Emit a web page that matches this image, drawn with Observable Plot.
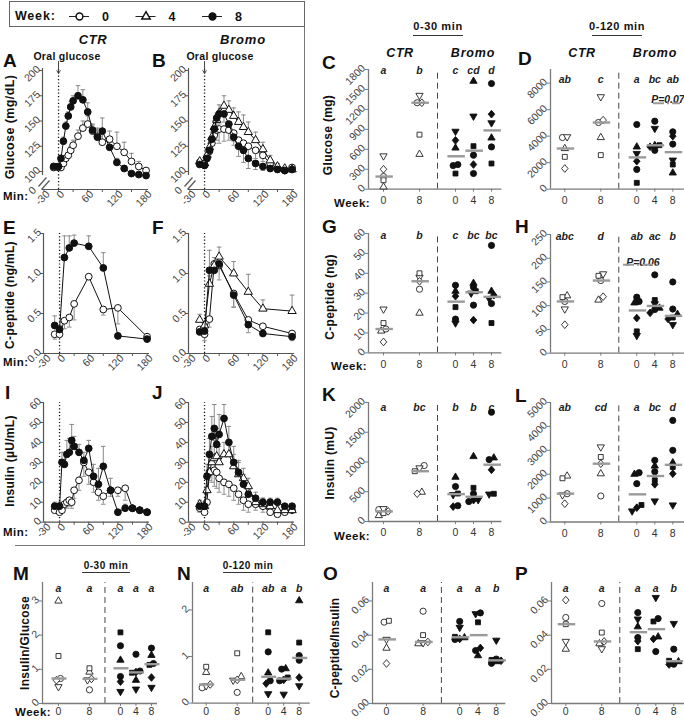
<!DOCTYPE html>
<html><head><meta charset="utf-8">
<script src="https://cdn.jsdelivr.net/npm/d3@7"></script>
<script src="https://cdn.jsdelivr.net/npm/@observablehq/plot@0.6"></script>
<style>
body{margin:0;background:#fff;}
#root{position:relative;width:684px;height:720px;overflow:hidden;font-family:"Liberation Sans",Arial,Helvetica,sans-serif;background:#fff;}
.t{position:absolute;white-space:nowrap;color:#111;line-height:1;}
</style></head><body><div id="root"></div>
<script>
// ================= DATA =================
const weekLabels = ["0", "4", "8"];
const glucoseTimes = [-10,0,5,10,15,20,25,30,40,50,60,70,80,90,105,120,135,150,165,180];
const insulinTimes = [-10,0,5,10,15,20,25,30,40,50,60,70,80,90,105,120,135,150,165,180];
const cpeptideTimes = [-10,0,10,20,30,60,90,120,180];
const doseTime = 0;

const glucoseCtrW0 = [104,104,104,108,113,116,121,126,135,143,147,140,135,129,132,125,119,110,105,101];
const glucoseCtrW0Err = [2,2,2,2,3,3,4,5,6,7,8,6,8,10,8,14,10,8,5,3];
const glucoseCtrW8 = [105,105,113,130,145,155,164,170,175,171,159,141,134,140,124,109,103,98,97,96];
const glucoseCtrW8Err = [3,3,3,4,4,4,5,5,10,10,9,6,8,13,5,4,3,2,2,2];
const glucoseBromoW0 = [109,107,114,120,128,136,141,142,142,141,138,131,128,125,121,116,108,103,101,104];
const glucoseBromoW0Err = [-3,-3,-4,-5,-6,-8,-10,-14,-12,-10,-8,-8,-10,-10,-8,-6,-4,-3,-2,-2];
const glucoseBromoW4 = [110,108,116,124,134,144,151,158,165,161,155,149,144,139,131,122,111,105,103,102];
const glucoseBromoW4Err = [2,2,3,4,5,6,7,8,10,9,8,10,12,10,8,7,5,3,2,2];
const glucoseBromoW8 = [107,106,113,121,132,142,153,157,157,147,134,125,121,113,108,105,103,102,101,102];
const glucoseBromoW8Err = [-2,-2,-3,-4,-5,-6,-8,-10,-8,-8,-8,-10,-12,-10,-6,-4,-3,-2,-2,-2];

const cpeptideCtrW0 = [0.24,0.24,0.41,0.45,0.62,0.96,0.55,0.57,0.21];
const cpeptideCtrW0Err = [-0.06,0,-0.1,-0.12,-0.2,0,-0.07,-0.2,-0.03];
const cpeptideCtrW8 = [0.35,0.30,1.20,1.32,1.38,1.34,1.07,0.22,0.18];
const cpeptideCtrW8Err = [0.12,0.05,0.27,0.15,0.10,0.13,0.19,0,0.02];
const cpeptideBromoW0 = [0.30,0.24,0.43,1.12,1.10,0.75,0.42,0.34,0.25];
const cpeptideBromoW0Err = [-0.05,-0.08,-0.1,0,-0.18,-0.17,-0.05,0,0];
const cpeptideBromoW4 = [0.42,0.35,0.87,1.10,1.21,1.00,0.77,0.56,0.53];
const cpeptideBromoW4Err = [0.07,0,0.1,0.1,0.12,0.15,0.22,0.11,0.2];
const cpeptideBromoW8 = [0.27,0.28,1.04,1.04,1.12,0.73,0.36,0.25,0.21];
const cpeptideBromoW8Err = [0,-0.05,0.25,0,0,-0.15,-0.1,0,-0.05];

const insulinCtrW0 = [6,5,6,9,10,11,10,16,21,30,25,20,15,13,16,16,17,7,6,5];
const insulinCtrW0Err = [-1,-1,-1,-2,-3,-3,-3,-4,-5,-7,-6,-5,-4,-4,-3,-3,-6,-1,-1,-1];
const insulinCtrW8 = [8,8,30,29,34,35,41,38,35,31,37,23,19,28,16,5,7,7,6,5];
const insulinCtrW8Err = [2,2,5,6,7,7,8,5,4,4,4,6,8,10,6,1,2,1,1,1];
const insulinBromoW0 = [7,5,10,25,28,26,25,22,20,19,17,14,11,9,9,8,5,4,5,6];
const insulinBromoW0Err = [-2,-1,-3,-4,-8,-8,-8,-7,-6,-6,-6,-5,-5,-4,-3,-3,-1,-1,-1,-1];
const insulinBromoW4 = [9,8,16,25,30,32,33,30,34,34,28,24,22,18,10,9,8,6,6,6];
const insulinBromoW4Err = [2,2,6,8,8,9,9,8,6,6,6,6,5,4,3,3,2,1,1,1];
const insulinBromoW8 = [8,8,23,34,43,47,39,44,52,40,30,25,19,14,12,10,10,10,8,8];
const insulinBromoW8Err = [2,2,6,8,10,12,8,10,7,8,8,6,5,4,3,2,2,2,1,1];

// Individual animals (CTR: 5 animals, Bromo: 6 animals); groups: CTR wk0, CTR wk8, Bromo wk0, wk4, wk8
const groupLabels = ["CTR 0", "CTR 8", "Bromo 0", "Bromo 4", "Bromo 8"];
const groupWeeks = ["0", "8", "0", "4", "8"];
const ctrAnimals = ["CTR-1", "CTR-2", "CTR-3", "CTR-4", "CTR-5"];
const bromoAnimals = ["Bromo-1", "Bromo-2", "Bromo-3", "Bromo-4", "Bromo-5", "Bromo-6"];

const glucoseAuc30 = [[190,35,500,135,300],[1300,525,1410,820,1300],[370,355,620,870,235,735],[511,236,1624,1098,647,371],[1589,636,771,997,386,1128]];
const glucoseAuc120 = [[3900,3070,3950,2440,1560],[5030,3900,6970,2570,5210],[4880,1490,3190,2690,480,2110],[5130,2930,3300,4580,3320,3200],[4330,3400,1230,2190,1860,4000]];
const cpeptideAuc30 = [[12,11,22,15,5.5],[32,20,38,40,36],[34,17,31,15,23,28.5],[33,24,35,30,31,16.5],[54,24.8,31,27.3,15,29]];
const cpeptideAuc120 = [[109,121,93,118,60],[153,112,167,163,119],[118,109,106,37,46,74],[165,92,95,104,112,85],[150,93,82,60,75,72]];
const insulinAuc30 = [[200,100,215,140,170],[940,493,900,845,466],[588,265,745,450,470,250],[466,335,1092,365,566,360],[1837,1040,1070,460,466,869]];
const insulinAuc120 = [[1184,1925,1130,1828,766],[1088,2020,3138,2720,2440],[2063,1603,2000,460,711,598],[2581,2105,2343,879,1745,1577],[4250,3000,2480,710,2300,2020]];
const insGlucRatio30 = [[0.73,3.0,0.49,1.39,0.68],[0.4,0.92,0.69,1.03,0.72],[1.69,0.79,1.27,0.35,2.08,0.64],[1.44,0.95,0.68,0.42,0.9,0.92],[1.62,1.17,1.41,0.47,1.13,0.76]];
const insGlucRatio120 = [[0.33,0.66,0.37,0.78,0.4],[0.23,0.57,0.49,1.07,0.5],[1.1,0.48,0.65,0.2,1.52,0.42],[0.73,0.48,0.74,0.19,0.55,0.5],[1.02,0.92,2.2,0.37,1.3,0.55]];
const cpepInsRatio30 = [[0.0476,0.0324,0.0375,0.0484,0.0234],[0.054,0.035,0.0355,0.04,0.036],[0.048,0.0375,0.0385,0.0445,0.039,0.0378],[0.053,0.031,0.028,0.0525,0.0475,0.0325],[0.026,0.0235,0.0245,0.037,0.0255,0.025]];
const cpepInsRatio120 = [[0.0503,0.0318,0.0363,0.0464,0.0605],[0.0585,0.035,0.032,0.0415,0.0363],[0.0532,0.0386,0.0449,0.0494,0.0318,0.0365],[0.0497,0.0304,0.039,0.062,0.048,0.0378],[0.0318,0.023,0.0245,0.0468,0.025,0.0228]];

const lettersC = ["a","b","c","cd","d"];
const lettersD = ["ab","c","a","bc","ab"];
const lettersG = ["a","b","c","bc","bc"];
const lettersH = ["abc","d","ab","ac","b"];
const lettersK = ["a","bc","b","b","c"];
const lettersL = ["ab","cd","a","bc","d"];
const lettersM = ["a","a","a","a","a"];
const lettersN = ["a","ab","ab","a","b"];
const lettersO = ["a","a","a","a","b"];
const lettersP = ["a","a","a","a","b"];
const pValueLabels = ["P=0.07", "P=0.06"];

const minuteTicks = [-30,0,30,60,90,120,150,180];
const minuteLabels = [-30,0,60,120,180];
const glucoseLineTicks = [100,125,150,175,200];
const cpeptideLineTicks = [0,0.5,1,1.5];
const insulinLineTicks = [0,10,20,30,40,50,60];
const ticksC = [0,300,600,900,1200,1500,1800];
const ticksD = [0,2000,4000,6000,8000];
const ticksG = [0,10,20,30,40,50,60];
const ticksH = [0,50,100,150,200,250];
const ticksK = [0,500,1000,1500,2000];
const ticksL = [0,1000,2000,3000,4000,5000];
const ticksM = [0,1,2,3];
const ticksN = [0,1,2];
const ticksOP = [0,0.02,0.04,0.06];

// ================= HELPERS =================
const FONT = '"Liberation Sans", Arial, Helvetica, sans-serif';
const root = document.getElementById("root");

function T(x, y, s, o = {}) {
  const d = document.createElement("div");
  d.className = "t";
  d.textContent = s;
  d.style.left = x + "px"; d.style.top = y + "px";
  d.style.fontSize = (o.size || 11) + "px";
  d.style.fontWeight = o.weight || "bold";
  if (o.italic) d.style.fontStyle = "italic";
  if (o.color) d.style.color = o.color;
  if (o.ls) d.style.letterSpacing = o.ls + "px";
  const ax = o.anchor === "start" ? "0" : o.anchor === "end" ? "-100%" : "-50%";
  d.style.transform = `translate(${ax},-50%)` + (o.rotate ? ` rotate(${o.rotate}deg)` : "");
  root.appendChild(d);
}
function box(x, y, w, h, css) {
  const d = document.createElement("div");
  d.style.cssText = `position:absolute;left:${x}px;top:${y}px;width:${w}px;height:${h}px;${css}`;
  root.appendChild(d);
}

const SQ3 = Math.sqrt(3);
const symSquare = {draw(c, s) { const w = Math.sqrt(s) * 0.92; c.rect(-w/2, -w/2, w, w); }};
const symDiamond = {draw(c, s) { const r = Math.sqrt(s) * 0.7; c.moveTo(0, -r); c.lineTo(r*0.85, 0); c.lineTo(0, r); c.lineTo(-r*0.85, 0); c.closePath(); }};
const symTriUp = {draw(c, s) { const y = Math.sqrt(s / (SQ3 * 3)); c.moveTo(0, -2*y); c.lineTo(SQ3*y, y); c.lineTo(-SQ3*y, y); c.closePath(); }};
const symTriDown = {draw(c, s) { const y = Math.sqrt(s / (SQ3 * 3)); c.moveTo(0, 2*y); c.lineTo(SQ3*y, -y); c.lineTo(-SQ3*y, -y); c.closePath(); }};
const symCap = {draw(c) { c.moveTo(-2.3, 0); c.lineTo(2.3, 0); }};

const weekStyle = {
  "0": {symbol: "circle", r: 3.4, fill: "#fff"},
  "4": {symbol: symTriUp, r: 3.1, fill: "#fff"},
  "8": {symbol: "circle", r: 3.4, fill: "#111"}
};

function mount(cfg, marks) {
  const mL = 50, mR = 14, mT = 32, mB = 34;
  const svg = Plot.plot({
    width: cfg.w + mL + mR, height: cfg.h + mT + mB,
    marginLeft: mL, marginRight: mR, marginTop: mT, marginBottom: mB,
    x: {domain: cfg.xd, axis: null}, y: {domain: cfg.yd, axis: null},
    style: {background: "none", overflow: "visible", fontFamily: FONT},
    marks
  });
  svg.style.position = "absolute";
  svg.style.left = (cfg.left - mL) + "px";
  svg.style.top = (cfg.top - mT) + "px";
  svg.style.maxWidth = "none";
  root.appendChild(svg);
}

function linePanel(cfg) {
  const [xLo, xHi] = cfg.xd, [yLo, yHi] = cfg.yd;
  const pxX = (xHi - xLo) / cfg.w, pxY = (yHi - yLo) / cfg.h;
  const AX = "#555";
  const marks = [
    Plot.ruleX([doseTime], {x: d => d, y1: yLo, y2: yHi, stroke: "#111", strokeWidth: 1.3, strokeDasharray: "1.2,2.2"}),
    Plot.ruleY([yLo], {y: d => d, x1: xLo, x2: xHi, stroke: AX, strokeWidth: 1.2}),
    Plot.ruleX([xLo], {x: d => d, y1: cfg.brk ? yLo + 14*pxY : yLo, y2: yHi, stroke: AX, strokeWidth: 1.2}),
    Plot.ruleX(minuteTicks, {x: d => d, y1: yLo, y2: yLo - 3*pxY, stroke: AX}),
    Plot.ruleY(cfg.yTicks, {y: d => d, x1: xLo - 3*pxX, x2: xLo, stroke: AX}),
    Plot.text(minuteLabels, {x: d => d, y: yLo, text: d => String(d), textAnchor: "end", rotate: -45, dx: 4, dy: 3, fontSize: 10.5, fill: "#444"}),
    Plot.text(cfg.yTicks, {x: xLo, y: d => d, text: cfg.yFmt, textAnchor: "end", rotate: -45, dx: -4, dy: -3, fontSize: 10.5, fill: "#444"})
  ];
  if (cfg.brk) {
    const sl = [[-4, 3, 4, 12], [-1, 0, 7, 9]];
    marks.push(Plot.link(sl, {x1: d => xLo + d[0]*pxX, y1: d => yLo + d[1]*pxY, x2: d => xLo + d[2]*pxX, y2: d => yLo + d[3]*pxY, stroke: "#555", strokeWidth: 1.2}));
    marks.push(Plot.text(["0"], {x: xLo, y: yLo, text: d => d, textAnchor: "end", rotate: -45, dx: -8, dy: -1, fontSize: 10.5, fill: "#444"}));
  }
  if (cfg.arrow) {
    marks.push(Plot.arrow([doseTime], {x1: d => d, x2: d => d, y1: yHi + 7*pxY, y2: yHi - 5*pxY, stroke: "#444", strokeWidth: 1, headLength: 5}));
  }
  const rowsOf = s => cfg.times.map((t, i) => ({t, v: s.values[i], e: s.errors[i]}));
  cfg.series.forEach(s => {
    const eb = rowsOf(s).filter(r => r.e);
    marks.push(Plot.ruleX(eb, {x: "t", y1: "v", y2: r => r.v + r.e, stroke: "#8a8a8a", strokeWidth: 1}));
    marks.push(Plot.dot(eb, {x: "t", y: r => r.v + r.e, symbol: symCap, r: 3, stroke: "#8a8a8a", strokeWidth: 1}));
  });
  cfg.series.forEach(s => {
    const rows = rowsOf(s);
    const st = weekStyle[s.week];
    marks.push(Plot.line(rows, {x: "t", y: "v", stroke: "#111", strokeWidth: 1}));
    marks.push(Plot.dot(rows, {x: "t", y: "v", symbol: st.symbol, r: st.r, fill: st.fill, stroke: "#111", strokeWidth: 1}));
  });
  mount(cfg, marks);
}

const groupPos = [0, 2, 4, 5, 6];
const dividerPos = 3;
const ctrSyms = [["circle", 3.1], [symTriUp, 2.7], [symTriDown, 2.7], [symSquare, 3.0], [symDiamond, 3.1]];
const bromoSyms = [["circle", 3.1], ["circle", 3.1], [symTriUp, 2.7], [symTriDown, 2.7], [symSquare, 3.0], [symDiamond, 3.1]];

function scatterPanel(cfg) {
  const [xLo, xHi] = cfg.xd, [yLo, yHi] = cfg.yd;
  cfg.w = (xHi - xLo) * cfg.unit;
  const pxX = 1 / cfg.unit, pxY = (yHi - yLo) / cfg.h;
  const rows = [];
  cfg.values.forEach((arr, g) => {
    const pts = arr.map((v, i) => ({g, i, v, ctr: g < 2, x: groupPos[g]}));
    const sorted = pts.slice().sort((a, b) => a.v - b.v);
    let cl = [];
    const flush = () => {
      const n = Math.min(cl.length, 3);
      cl.forEach((p, j) => p.x = groupPos[g] + ((j % 3) - (n - 1) / 2) * 0.26);
      cl = [];
    };
    sorted.forEach(p => { if (cl.length && (p.v - cl[cl.length - 1].v) / pxY > 3.5) flush(); cl.push(p); });
    flush();
    rows.push(...pts);
  });
  const meds = cfg.values.map((arr, g) => ({x: groupPos[g], m: d3.median(arr)}));
  const AX = "#7a7a7a";
  const fmt = cfg.fmt || (d => String(d));
  const marks = [
    Plot.ruleX([dividerPos], {x: d => d, y1: yLo, y2: yHi, stroke: "#444", strokeWidth: 1, strokeDasharray: "6,4"}),
    Plot.ruleY([yLo], {y: d => d, x1: xLo, x2: xHi, stroke: AX, strokeWidth: 1.3}),
    Plot.ruleX([xLo], {x: d => d, y1: yLo, y2: yHi, stroke: AX, strokeWidth: 1.3}),
    Plot.ruleX(groupPos, {x: d => d, y1: yLo, y2: yLo - 3*pxY, stroke: AX}),
    Plot.ruleY(cfg.ticks, {y: d => d, x1: xLo - 3*pxX, x2: xLo, stroke: AX}),
    Plot.text(cfg.ticks, {x: xLo, y: d => d, text: fmt, textAnchor: "end", rotate: -45, dx: -5, dy: -3, fontSize: 10.5, fill: "#444"}),
    Plot.text(groupPos, {x: d => d, text: (d, i) => groupWeeks[i], frameAnchor: "bottom", dy: cfg.weekDy || 15, fontSize: 10.5, fill: "#333"}),
    Plot.text(groupPos, {x: d => d, text: (d, i) => cfg.letters[i], frameAnchor: "top", dy: cfg.letterDy, fontSize: 10.5, fontWeight: "bold", fontStyle: "italic", fill: "#222"})
  ];
  ctrSyms.forEach(([sym, r], k) => marks.push(Plot.dot(rows.filter(p => p.ctr && p.i === k), {x: "x", y: "v", symbol: sym, r, fill: "#fff", stroke: "#222", strokeWidth: 0.9})));
  bromoSyms.forEach(([sym, r], k) => marks.push(Plot.dot(rows.filter(p => !p.ctr && p.i === k), {x: "x", y: "v", symbol: sym, r, fill: "#111", stroke: "#111", strokeWidth: 0.9})));
  marks.push(Plot.ruleY(meds, {y: "m", x1: d => d.x - 0.42, x2: d => d.x + 0.55, stroke: "#9a9a9a", strokeWidth: 2.4}));
  if (cfg.pAnn) {
    const a = cfg.pAnn;
    marks.push(Plot.text([a], {x: "x", text: "text", frameAnchor: "top", dy: a.dy, fontSize: 10.5, fontWeight: "bold", fontStyle: "italic", fill: "#222"}));
    marks.push(Plot.ruleY([a], {y: yHi - a.barDy * pxY, x1: "x1", x2: "x2", stroke: "#9a9a9a", strokeWidth: 2, strokeDasharray: "11,3,2,3"}));
  }
  mount(cfg, marks);
}

// ================= FRAME / BOX =================
box(9, 1, 296, 26, "border:1.5px solid #666;box-sizing:border-box;");
box(304, 27, 0, 519, "border-left:1.5px solid #777;");
box(15, 545, 290, 0, "border-top:1.5px solid #777;");

// Legend
(function legend() {
  const items = weekLabels.map((w, i) => ({w, cx: 79 + 66.5 * i}));
  const svg = Plot.plot({
    width: 305, height: 30, margin: 0,
    x: {domain: [0, 305], axis: null}, y: {domain: [0, 30], axis: null},
    style: {background: "none", overflow: "visible", fontFamily: FONT},
    marks: [
      Plot.ruleY(items, {y: 14, x1: d => d.cx - 10, x2: d => d.cx + 10, stroke: "#222", strokeWidth: 1}),
      ...weekLabels.map(w => Plot.dot(items.filter(d => d.w === w), {x: "cx", y: 14, symbol: weekStyle[w].symbol, r: weekStyle[w].r, fill: weekStyle[w].fill, stroke: "#111"})),
      Plot.text(items, {x: d => d.cx + 26, y: 14, text: "w", fontSize: 12.5, fontWeight: "bold", fill: "#111"})
    ]
  });
  svg.style.position = "absolute"; svg.style.left = "0px"; svg.style.top = "0px";
  root.appendChild(svg);
})();
T(15, 16, "Week:", {anchor: "start", size: 12.5, ls: 0.8});

// ================= LINE PANELS =================
const W = 106, XD = [-33, 185];
linePanel({left: 42.3, top: 68, w: W, h: 121, xd: XD, yd: [82.2, 202], times: glucoseTimes, yTicks: glucoseLineTicks, yFmt: d => String(d), brk: true, arrow: true,
  series: [{week: "0", values: glucoseCtrW0, errors: glucoseCtrW0Err}, {week: "8", values: glucoseCtrW8, errors: glucoseCtrW8Err}]});
linePanel({left: 188, top: 68, w: W, h: 121, xd: XD, yd: [82.2, 202], times: glucoseTimes, yTicks: glucoseLineTicks, yFmt: d => String(d), brk: true, arrow: true,
  series: [{week: "0", values: glucoseBromoW0, errors: glucoseBromoW0Err}, {week: "4", values: glucoseBromoW4, errors: glucoseBromoW4Err}, {week: "8", values: glucoseBromoW8, errors: glucoseBromoW8Err}]});
linePanel({left: 42.5, top: 233, w: W, h: 120, xd: XD, yd: [0, 1.5], times: cpeptideTimes, yTicks: cpeptideLineTicks, yFmt: d => d.toFixed(1),
  series: [{week: "0", values: cpeptideCtrW0, errors: cpeptideCtrW0Err}, {week: "8", values: cpeptideCtrW8, errors: cpeptideCtrW8Err}]});
linePanel({left: 188, top: 233, w: W, h: 120, xd: XD, yd: [0, 1.5], times: cpeptideTimes, yTicks: cpeptideLineTicks, yFmt: d => d.toFixed(1),
  series: [{week: "0", values: cpeptideBromoW0, errors: cpeptideBromoW0Err}, {week: "4", values: cpeptideBromoW4, errors: cpeptideBromoW4Err}, {week: "8", values: cpeptideBromoW8, errors: cpeptideBromoW8Err}]});
linePanel({left: 42.5, top: 402, w: W, h: 119.7, xd: XD, yd: [0, 60], times: insulinTimes, yTicks: insulinLineTicks, yFmt: d => String(d),
  series: [{week: "0", values: insulinCtrW0, errors: insulinCtrW0Err}, {week: "8", values: insulinCtrW8, errors: insulinCtrW8Err}]});
linePanel({left: 188, top: 402, w: W, h: 119.7, xd: XD, yd: [0, 60], times: insulinTimes, yTicks: insulinLineTicks, yFmt: d => String(d),
  series: [{week: "0", values: insulinBromoW0, errors: insulinBromoW0Err}, {week: "4", values: insulinBromoW4, errors: insulinBromoW4Err}, {week: "8", values: insulinBromoW8, errors: insulinBromoW8Err}]});

// ================= SCATTER PANELS =================
scatterPanel({left: 368.3, top: 69.3, h: 119.7, unit: 18, xd: [-0.833, 6.578], yd: [0, 1800], ticks: ticksC, letters: lettersC, letterDy: -2.6, values: glucoseAuc30});
scatterPanel({left: 550, top: 69.3, h: 119.7, unit: 18, xd: [-0.794, 6.65], yd: [0, 9030], ticks: ticksD, letters: lettersD, letterDy: 5.7, values: glucoseAuc120,
  pAnn: {text: pValueLabels[0], x: 5.73, dy: 25.7, x1: 4.93, x2: 6.43, barDy: 33.7}});
scatterPanel({left: 368.3, top: 233.3, h: 119.4, unit: 18, xd: [-0.833, 6.578], yd: [0, 60], ticks: ticksG, letters: lettersG, letterDy: -1.6, values: cpeptideAuc30});
scatterPanel({left: 550, top: 234, h: 118.7, unit: 18, xd: [-0.794, 6.65], yd: [0, 250], ticks: ticksH, letters: lettersH, letterDy: -2.3, values: cpeptideAuc120,
  pAnn: {text: pValueLabels[1], x: 4.34, dy: 24.3, x1: 3.26, x2: 5.2, barDy: 30.3}});
scatterPanel({left: 368.3, top: 402, h: 119, unit: 18, xd: [-0.833, 6.578], yd: [0, 2000], ticks: ticksK, letters: lettersK, letterDy: 0.7, values: insulinAuc30});
scatterPanel({left: 550, top: 401.5, h: 119.5, unit: 18, xd: [-0.794, 6.65], yd: [0, 5000], ticks: ticksL, letters: lettersL, letterDy: 1.2, values: insulinAuc120});
scatterPanel({left: 41.7, top: 581.7, h: 121, unit: 15.5, xd: [-1.03, 6.39], yd: [0, 3.54], ticks: ticksM, letters: lettersM, letterDy: 1.6, weekDy: 11.5, values: insGlucRatio30});
scatterPanel({left: 192.3, top: 581.7, h: 120.6, unit: 15.5, xd: [-0.884, 6.71], yd: [0, 2.59], ticks: ticksN, letters: lettersN, letterDy: 1.6, weekDy: 11.9, values: insGlucRatio120});
scatterPanel({left: 371.7, top: 581.7, h: 121, unit: 18.3, xd: [-0.765, 6.52], yd: [0, 0.0708], ticks: ticksOP, fmt: d => d.toFixed(2), letters: lettersO, letterDy: 1.6, weekDy: 11.5, values: cpepInsRatio30});
scatterPanel({left: 550.7, top: 581.7, h: 121, unit: 18, xd: [-0.794, 6.61], yd: [0, 0.0708], ticks: ticksOP, fmt: d => d.toFixed(2), letters: lettersP, letterDy: 1.6, weekDy: 11.5, values: cpepInsRatio120});

// ================= TEXT =================
T(93, 39, "CTR", {size: 13, italic: true, ls: 0.6});
T(243, 39, "Bromo", {size: 13, italic: true, ls: 0.8});
T(67, 56, "Oral glucose", {size: 10.5, ls: 0.3});
T(220, 56, "Oral glucose", {size: 10.5, ls: 0.3});
[["A",3,60],["B",152,60],["E",3,227],["F",152,227],["I",5,392],["J",152,392],
 ["C",322,62],["D",518,58],["G",322,226],["H",515,226],["K",322,394],["L",515,395],
 ["M",13,573],["N",177,573],["O",323,573],["P",515,573]].forEach(([s,x,y]) => T(x, y, s, {anchor: "start", size: 19}));
[197, 363, 533].forEach(y => T(3, y, "Min:", {anchor: "start", size: 11.5, ls: 0.5}));
T(10, 127, "Glucose (mg/dL)", {size: 12.5, rotate: -90, ls: 0.4});
T(10, 295, "C-peptide (ng/mL)", {size: 12, rotate: -90, ls: 0.3});
T(10, 461, "Insulin (µU/mL)", {size: 12, rotate: -90, ls: 0.3});
T(328, 135, "Glucose (mg)", {size: 12, rotate: -90, ls: 0.3});
T(330, 297, "C-peptide (ng)", {size: 12, rotate: -90, ls: 0.3});
T(330, 463, "Insulin (mU)", {size: 12, rotate: -90, ls: 0.3});
T(25, 643, "Insulin/Glucose", {size: 12, rotate: -90, ls: 0.3});
T(335, 648, "C-peptide/Insulin", {size: 12, rotate: -90, ls: 0.2});

T(438, 26, "0-30 min", {size: 11, ls: 0.6});
box(413, 35, 50, 0, "border-top:1.2px solid #333;");
T(617, 26, "0-120 min", {size: 11, ls: 0.6});
box(592, 35, 50, 0, "border-top:1.2px solid #333;");
T(400, 53, "CTR", {size: 12.5, italic: true, ls: 0.6});
T(473, 53, "Bromo", {size: 12.5, italic: true, ls: 0.8});
T(582, 53, "CTR", {size: 12.5, italic: true, ls: 0.6});
T(655, 53, "Bromo", {size: 12.5, italic: true, ls: 0.8});
T(106, 566, "0-30 min", {size: 10, ls: 0.5});
box(82, 572, 48, 0, "border-top:1.2px solid #333;");
T(248, 566, "0-120 min", {size: 10, ls: 0.5});
box(223, 572, 49, 0, "border-top:1.2px solid #333;");
T(334, 204, "Week:", {anchor: "start", size: 11.5, ls: 0.5});
T(331, 367, "Week:", {anchor: "start", size: 11.5, ls: 0.5});
T(334, 537, "Week:", {anchor: "start", size: 11.5, ls: 0.5});
T(15, 713, "Week:", {anchor: "start", size: 11.5, ls: 0.5});
</script></body></html>
